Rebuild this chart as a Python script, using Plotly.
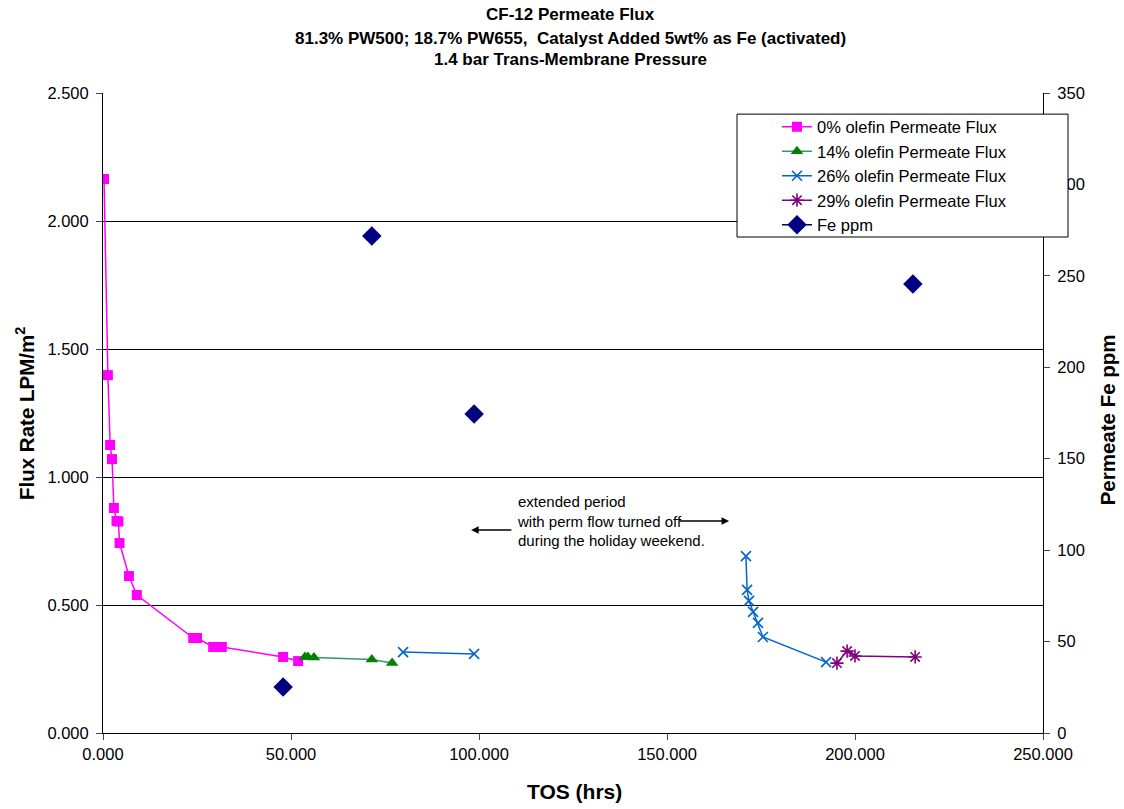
import plotly.graph_objects as go

# 0% olefin
x0 = [0.27, 1.3, 1.9, 2.4, 2.9, 3.6, 4.1, 4.4, 6.9, 9.0, 24.0, 25.0, 29.3, 31.6, 47.9, 51.9]
y0 = [2.164, 1.398, 1.125, 1.070, 0.879, 0.828, 0.826, 0.742, 0.613, 0.539, 0.371, 0.371, 0.336, 0.336, 0.297, 0.281]
# 14% olefin
x14 = [53.7, 54.5, 56.1, 71.5, 76.9]
y14 = [0.297, 0.297, 0.295, 0.287, 0.273]
# 26% olefin
x26 = [79.8, 98.7, None, 171.0, 171.3, 171.8, 172.9, 174.2, 175.5, 192.3]
y26 = [0.316, 0.309, None, 0.691, 0.559, 0.516, 0.473, 0.430, 0.375, 0.277]
# 29% olefin
x29 = [195.2, 197.9, 200.0, 216.0]
y29 = [0.273, 0.320, 0.301, 0.297]
# Fe ppm
xfe = [47.9, 71.5, 98.7, 215.4]
yfe = [25.2, 271.8, 174.4, 245.5]

title_lines = ["CF-12 Permeate Flux",
               "81.3% PW500; 18.7% PW655,  Catalyst Added 5wt% as Fe (activated)",
               "1.4 bar Trans-Membrane Pressure"]

FONT = "Liberation Sans, Arial, sans-serif"

# isolate Fe points (no connecting segments) while keeping a line in the legend
xfe_plot, yfe_plot = [], []
for a, b in zip(xfe, yfe):
    xfe_plot += [a, None]
    yfe_plot += [b, None]

fig = go.Figure()
fig.add_trace(go.Scatter(x=x0, y=y0, mode="lines+markers", name="0% olefin Permeate Flux",
                         line=dict(color="#FF00FF", width=1.5),
                         marker=dict(symbol="square", size=10, color="#FF00FF")))
fig.add_trace(go.Scatter(x=x14, y=y14, mode="lines+markers", name="14% olefin Permeate Flux",
                         line=dict(color="#339966", width=1.5),
                         marker=dict(symbol="triangle-up", size=11, color="#008000")))
fig.add_trace(go.Scatter(x=x26, y=y26, mode="lines+markers", name="26% olefin Permeate Flux",
                         connectgaps=False,
                         line=dict(color="#0066CC", width=1.5),
                         marker=dict(symbol="x-thin", size=10, color="#0066CC",
                                     line=dict(color="#0066CC", width=1.6))))
fig.add_trace(go.Scatter(x=x29, y=y29, mode="lines+markers", name="29% olefin Permeate Flux",
                         line=dict(color="#800080", width=1.5),
                         marker=dict(symbol="asterisk-open", size=11, color="#800080",
                                     line=dict(color="#800080", width=1.6))))
fig.add_trace(go.Scatter(x=xfe_plot, y=yfe_plot, mode="lines+markers", name="Fe ppm", yaxis="y2",
                         connectgaps=False,
                         line=dict(color="#000080", width=1.5),
                         marker=dict(symbol="diamond", size=15, color="#000080")))

TICKFONT = dict(family=FONT, size=16.5, color="black")

fig.update_layout(
    width=1124, height=809,
    margin=dict(l=103, r=81, t=93, b=76),
    paper_bgcolor="white", plot_bgcolor="white",
    font=dict(family=FONT, size=14, color="black"),
    xaxis=dict(range=[0, 250], dtick=50, tickformat=".3f", showgrid=False,
               showline=True, linecolor="black", linewidth=1, ticks="outside", ticklen=6,
               zeroline=False, tickfont=TICKFONT),
    yaxis=dict(range=[0, 2.5], dtick=0.5, tickformat=".3f", showgrid=True, gridcolor="black",
               gridwidth=1, showline=True, linecolor="black", linewidth=1, ticks="outside",
               ticklen=6, zeroline=False, tickfont=TICKFONT, ticklabelstandoff=4),
    yaxis2=dict(range=[0, 350], dtick=50, overlaying="y", side="right", showgrid=False,
                showline=True, linecolor="black", linewidth=1, ticks="outside", ticklen=6,
                zeroline=False, tickfont=TICKFONT, ticklabelstandoff=4),
    legend=dict(x=0.717, y=0.974, xanchor="left", yanchor="top",
                bgcolor="rgba(0,0,0,0)", borderwidth=0,
                font=dict(family=FONT, size=16.5), tracegroupgap=0),
    showlegend=True,
)

# legend frame
fig.add_shape(type="rect", xref="paper", yref="paper", x0=0.6745, x1=1.0266, y0=0.775, y1=0.967,
              line=dict(color="black", width=1), fillcolor="white", layer="above")

# title lines
for txt, yy in zip(title_lines, [1.1219, 1.0844, 1.0516]):
    fig.add_annotation(x=0.497, y=yy, xref="paper", yref="paper", showarrow=False,
                       xanchor="center", yanchor="middle", text="<b>" + txt + "</b>",
                       font=dict(family=FONT, size=17))

# axis titles
fig.add_annotation(x=0.502, y=-0.092, xref="paper", yref="paper", showarrow=False,
                   xanchor="center", yanchor="middle",
                   text="<b>TOS (hrs)</b>", font=dict(family=FONT, size=21))
fig.add_annotation(x=-0.083, y=0.5, xref="paper", yref="paper", showarrow=False, textangle=-90,
                   xanchor="center", yanchor="middle",
                   text="<b>Flux Rate LPM/m<sup>2</sup></b>", font=dict(family=FONT, size=20.5))
fig.add_annotation(x=1.068, y=0.49, xref="paper", yref="paper", showarrow=False, textangle=-90,
                   xanchor="center", yanchor="middle",
                   text="<b>Permeate Fe ppm</b>", font=dict(family=FONT, size=20.5))

fig.add_annotation(x=109.6, y=0.828, xref="x", yref="y", xanchor="left", yanchor="middle",
                   align="left", showarrow=False,
                   text="extended period<br>with perm flow turned off<br>during the holiday weekend.",
                   font=dict(family=FONT, size=15))
fig.add_annotation(x=97.9, y=0.793, ax=109.0, ay=0.793, xref="x", yref="y", axref="x", ayref="y",
                   showarrow=True, arrowhead=2, arrowsize=1, arrowwidth=1.5, arrowcolor="black", text="")
fig.add_annotation(x=166.5, y=0.828, ax=152.9, ay=0.828, xref="x", yref="y", axref="x", ayref="y",
                   showarrow=True, arrowhead=2, arrowsize=1, arrowwidth=1.5, arrowcolor="black", text="")

fig.write_html("out.html")
